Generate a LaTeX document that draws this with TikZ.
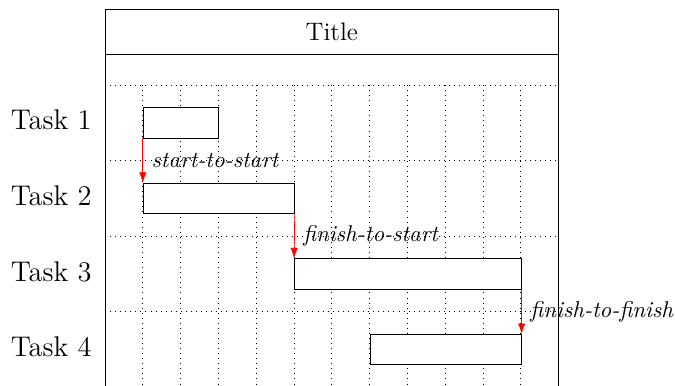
\documentclass[tikz,border=0pt]{standalone}
\usepackage{tikz}
\usetikzlibrary{arrows.meta,positioning}

\begin{document}
\begin{tikzpicture}[
      x=0.63cm, y=1.26cm,
      bar/.style={draw, thin, fill=white, inner sep=0pt, anchor=north west,
                  minimum height=0.4*1.26cm},
      gridline/.style={dotted, thin},
      link/.style={-{Latex[length=5pt, width=3.5pt]}, red, thin},
      linklabel/.style={right, inner sep=4pt, text=black,
                        font=\fontsize{10.8}{13}\selectfont\itshape},
      tasklabel/.style={anchor=base east, inner sep=0pt,
                        font=\fontsize{13.5}{16}\selectfont}]
    \useasboundingbox (-2.778,1.124) rectangle (15.08,-3.981);
    % frame and title
    \draw (0,-3.981) -- (0,1.005) -- (12,1.005) -- (12,-3.981);
    \draw (0,0.41) -- (12,0.41);
    \node[font=\large] (title) at (6,0.708) {Title};
    % grid
    \foreach \r in {0,...,3}{
      \draw[gridline] (0,-\r) -- (12,-\r);
    }
    \foreach \c in {1,...,11}{
      \draw[gridline] (\c,0) -- (\c,-3.981);
    }
    % tasks and bars
    \foreach \i/\s/\e in {1/1/3, 2/1/5, 3/5/11, 4/7/11}{
      \node[tasklabel] (task\i) at (-0.344,-\i+0.405) {Task \i};
      \node[bar, minimum width={(\e-\s)*0.63cm}] (bar\i) at (\s,-\i+0.705) {};
    }
    % links
    \draw[link] (bar1.south west) -- (bar2.north west)
      node[linklabel, midway] {start-to-start};
    \draw[link] (bar2.south east) -- (bar3.north west)
      node[linklabel, midway] {finish-to-start};
    \draw[link] (bar3.south east) -- (bar4.north east)
      node[linklabel, midway] {finish-to-finish};
  \end{tikzpicture}
\end{document}
